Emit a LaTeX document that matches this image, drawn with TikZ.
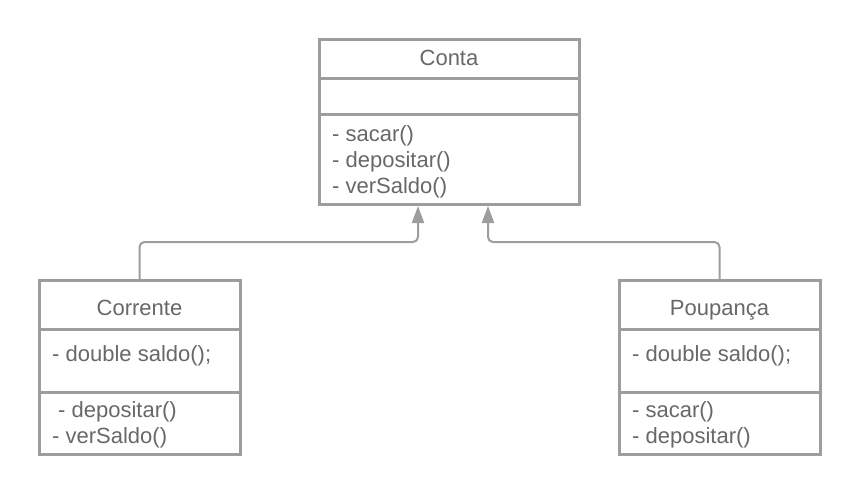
\documentclass[tikz,border=0pt]{standalone}
\usepackage{fontspec}
\setmainfont{Liberation Sans}
\usepackage{xcolor}
\usepackage{tikz}
\usetikzlibrary{arrows.meta}

\definecolor{linha}{HTML}{9D9D9D}
\definecolor{texto}{HTML}{686868}

\tikzset{
  classe/.style={draw=linha, line width=3pt, fill=white, inner sep=0pt, outer sep=0pt},
  divisao/.style={draw=linha, line width=3pt},
  heranca/.style={draw=linha, line width=2pt, rounded corners=5pt,
    -{Triangle[length=17pt,width=12pt,fill=linha]}},
  rotulo/.style={text=texto, inner sep=0pt, font=\fontsize{22}{26}\selectfont}
}

\begin{document}
\begin{tikzpicture}[x=1pt,y=-1pt]
\useasboundingbox (0,0) rectangle (860,495);

% caixas
\node[classe, minimum width=260pt, minimum height=164pt] (conta) at (449,122) {};
\node[classe, minimum width=201pt, minimum height=174pt] (corrente) at (139.5,367) {};
\node[classe, minimum width=201pt, minimum height=174pt] (poupanca) at (719.5,367) {};

\draw[divisao] (319,79) -- (579,79);
\draw[divisao] (319,114) -- (579,114);
\draw[divisao] (39,329) -- (240,329);
\draw[divisao] (39,392) -- (240,392);
\draw[divisao] (619,329) -- (820,329);
\draw[divisao] (619,392) -- (820,392);

% textos
\node[rotulo, anchor=base] (contaNome) at (449,65.5) {Conta};
\node[rotulo, anchor=base west] (contaSacar) at (332,141) {- sacar()};
\node[rotulo, anchor=base west] (contaDepositar) at (332,167) {- depositar()};
\node[rotulo, anchor=base west] (contaSaldo) at (332,193) {- verSaldo()};

\node[rotulo, anchor=base] (correnteNome) at (139.5,315.5) {Corrente};
\node[rotulo, anchor=base west] (correnteSaldo) at (52,361) {- double saldo();};
\node[rotulo, anchor=base west] (correnteDepositar) at (52,417) {\hspace{6pt}- depositar()};
\node[rotulo, anchor=base west] (correnteVer) at (52,443) {- verSaldo()};

\node[rotulo, anchor=base] (poupancaNome) at (719.5,315.5) {Poupança};
\node[rotulo, anchor=base west] (poupancaSaldo) at (632,361) {- double saldo();};
\node[rotulo, anchor=base west] (poupancaSacar) at (632,417) {- sacar()};
\node[rotulo, anchor=base west] (poupancaDepositar) at (632,443) {- depositar()};

% heranca
\coordinate (contaEsq) at ([xshift=-31pt,yshift=-2pt]conta.south);
\coordinate (contaDir) at ([xshift=39pt,yshift=-2pt]conta.south);
\draw[heranca] (corrente.north) -- ++(0,-38) -| (contaEsq);
\draw[heranca] (poupanca.north) -- ++(0,-38) -| (contaDir);

\end{tikzpicture}
\end{document}
